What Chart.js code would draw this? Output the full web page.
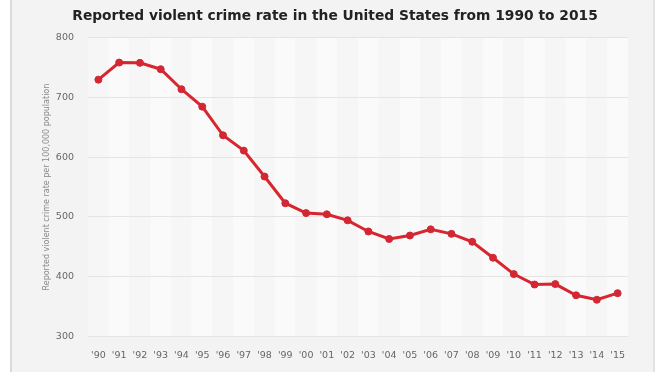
<!DOCTYPE html>
<html>
<head>
<meta charset="utf-8">
<script src="https://cdn.jsdelivr.net/npm/chart.js@4"></script>
<style>
  html, body { margin: 0; padding: 0; background: #ffffff; }
  #panel {
    position: absolute; left: 10px; top: 0; width: 641px; height: 372px;
    background: #f3f3f3;
    border-left: 2px solid #dadada;
    border-right: 2px solid #e2e2e2;
  }
  #wrap { position: absolute; left: 0; top: 0; width: 672px; height: 372px; }
</style>
</head>
<body>
<div id="panel"></div>
<div id="wrap"><canvas id="chart"></canvas></div>
<script>
// ================= DATA =================
const years = ["'90","'91","'92","'93","'94","'95","'96","'97","'98","'99","'00","'01","'02",
  "'03","'04","'05","'06","'07","'08","'09","'10","'11","'12","'13","'14","'15"];
const crimeRate = [729.6, 758.2, 757.7, 747.1, 713.6, 684.5, 636.6, 611.0, 567.6, 523.0, 506.5, 504.5, 494.4,
  475.8, 463.2, 469.0, 479.3, 471.8, 458.6, 431.9, 404.5, 387.1, 387.8, 369.1, 361.6, 372.6];
const yTicks = [300, 400, 500, 600, 700, 800];

// alternating column shading behind the line
const stripes = {
  id: "stripes",
  beforeDraw(chart) {
    const { ctx, chartArea, scales } = chart;
    const x = scales.x;
    const step = x.getPixelForValue(1) - x.getPixelForValue(0);
    ctx.save();
    years.forEach((y, i) => {
      const cx = x.getPixelForValue(i);
      ctx.fillStyle = i % 2 === 0 ? "#f6f6f6" : "#fafafa";
      ctx.fillRect(cx - step / 2, chartArea.top, step, chartArea.bottom - chartArea.top);
    });
    ctx.restore();
  }
};

const red = "#d8262f";

new Chart(document.getElementById("chart").getContext("2d"), {
  type: "line",
  data: {
    labels: years,
    datasets: [{
      data: crimeRate,
      borderColor: red,
      backgroundColor: red,
      borderWidth: 3,
      pointRadius: 3.5,
      pointBackgroundColor: red,
      pointBorderColor: "#c92a3c",
      pointBorderWidth: 1,
      tension: 0
    }]
  },
  options: {
    responsive: true,
    maintainAspectRatio: false,
    animation: false,
    layout: { padding: { left: 42, right: 44, top: 6, bottom: 6 } },
    plugins: {
      legend: { display: false },
      tooltip: { enabled: false },
      title: {
        display: true,
        text: "Reported violent crime rate in the United States from 1990 to 2015",
        color: "#222222",
        font: { family: "DejaVu Sans", size: 13.8, weight: "bold" },
        padding: { top: 2, bottom: 13 }
      }
    },
    scales: {
      x: {
        offset: true,
        grid: { display: false },
        border: { display: false },
        ticks: {
          color: "#666666",
          font: { family: "DejaVu Sans", size: 9.5 },
          maxRotation: 0,
          autoSkip: false,
          padding: 5
        }
      },
      y: {
        min: 300,
        max: 800,
        afterBuildTicks(axis) { axis.ticks = yTicks.map(v => ({ value: v })); },
        afterFit(axis) { axis.width = 46; },
        grid: { color: "#e4e4e4", lineWidth: 1, drawTicks: false },
        border: { display: false },
        ticks: {
          color: "#666666",
          font: { family: "DejaVu Sans", size: 9.5 },
          padding: 14
        },
        title: {
          display: true,
          text: "Reported violent crime rate per 100,000 population",
          color: "#8a8a8a",
          font: { family: "DejaVu Sans", size: 8 },
          padding: { top: 0, bottom: 5 }
        }
      }
    }
  },
  plugins: [stripes]
});
</script>
</body>
</html>
